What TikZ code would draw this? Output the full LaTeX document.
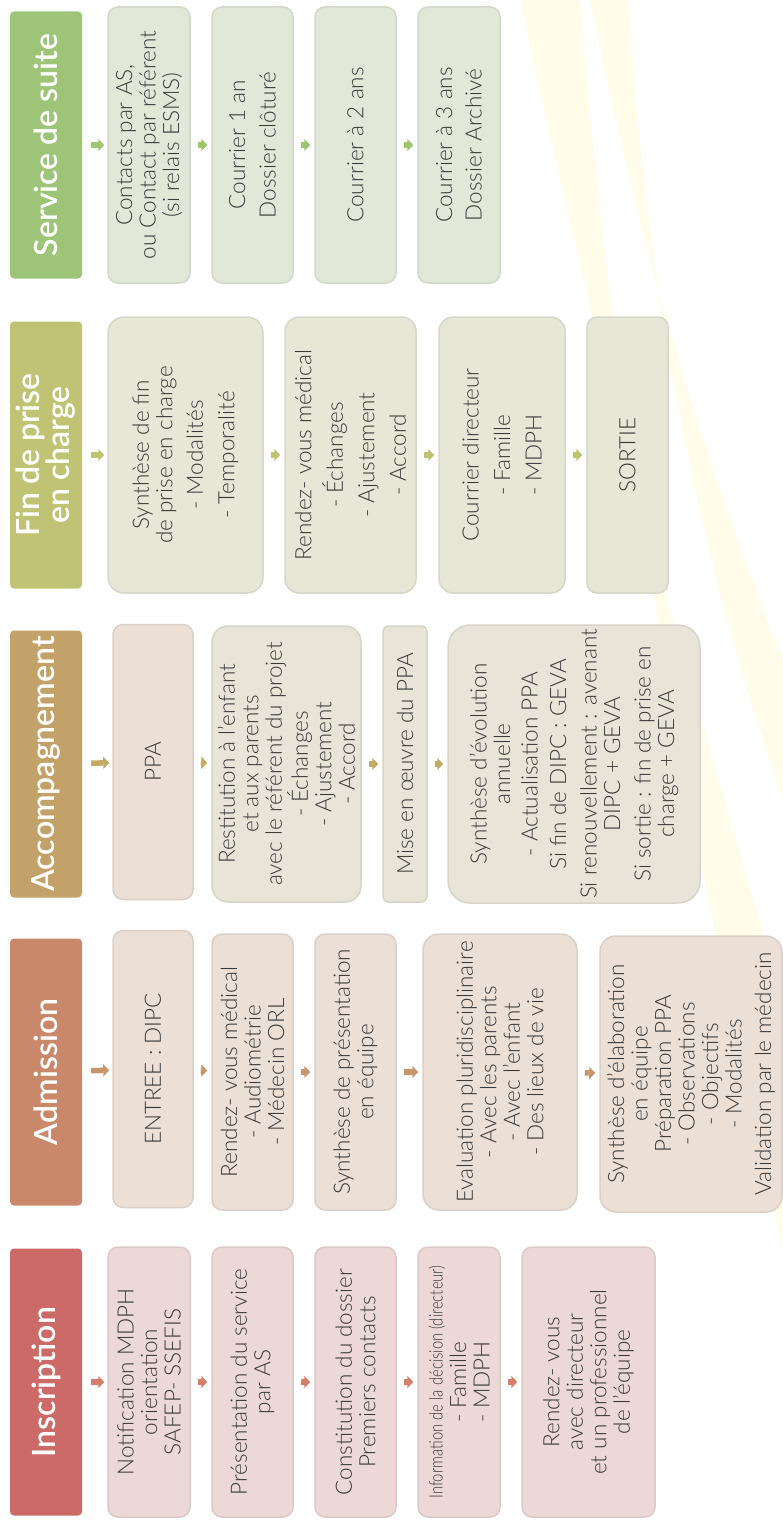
\documentclass[tikz,border=0pt]{standalone}
\usepackage{fontspec}
\setmainfont{Lato}
\newfontfamily\bodyfont{Lato Light}
\newfontfamily\headfont{Lato Semibold}
\usetikzlibrary{arrows.meta}

\definecolor{txt}{HTML}{3A3A3A}
\definecolor{insH}{HTML}{CB6A66}
\definecolor{insB}{HTML}{ECD8D6}
\definecolor{insA}{HTML}{D57F6B}
\definecolor{admH}{HTML}{C98869}
\definecolor{admB}{HTML}{EBDFD6}
\definecolor{admA}{HTML}{C9966C}
\definecolor{accH}{HTML}{C2A268}
\definecolor{accB}{HTML}{E9E4D8}
\definecolor{accA}{HTML}{C4AA62}
\definecolor{finH}{HTML}{BFC373}
\definecolor{finB}{HTML}{E6E7D7}
\definecolor{finA}{HTML}{BEC46E}
\definecolor{suiH}{HTML}{9EC477}
\definecolor{suiB}{HTML}{E1E8D8}
\definecolor{suiA}{HTML}{9DC66F}
\definecolor{swl}{HTML}{FFFDEA}

\begin{document}
\begin{tikzpicture}[x=1pt,y=-1pt]
   \tikzset{
     hdr/.style={rotate=90, fill=#1, rounded corners=4pt, minimum width=267pt,
       minimum height=72pt, inner sep=0pt, text=white, align=center,
       font=\headfont\fontsize{32}{29}\selectfont},
     box/.style={rotate=90, fill=#1, draw=#1!93!black, line width=1.5pt,
       rounded corners=10pt, inner sep=0pt, align=center, text=txt,
       font=\bodyfont\fontsize{22.5}{23.5}\selectfont},
     sz/.style 2 args={minimum width=#1pt, minimum height=#2pt},
     arr/.style={draw=#1, line width=5.5pt, -{Triangle[width=12pt,length=6pt]},
       shorten <=7pt, shorten >=4pt},
     first/.style={shorten <=9pt, shorten >=3pt},
     swoosh/.style={fill=swl}
   }
   \useasboundingbox (0,0) rectangle (783,1520);
   \fill[swoosh] (520,0) .. controls (600,380) and (700,720) .. (783,1000)
      -- (783,1250) .. controls (680,800) and (610,380) .. (580,0) -- cycle;
   \fill[swoosh] (590,0) .. controls (650,300) and (720,500) .. (783,660)
      -- (783,800) .. controls (700,560) and (650,320) .. (628,0) -- cycle;

   \node[hdr=insH] (hIns) at (46,1382) {Inscription};
   \node[box=insB, sz={270}{82}] (ins1) at (149,1382) {Notification MDPH\\orientation\\SAFEP- SSEFIS};
   \node[box=insB, sz={270}{81}] (ins2) at (252.5,1382) {Présentation du service\\par AS};
   \node[box=insB, sz={270}{81}] (ins3) at (355.5,1382) {Constitution du dossier\\Premiers contacts};
   \node[box=insB, sz={270}{82}] (ins4) at (459,1382) {\scalebox{0.66}[0.82]{Information de la décision (directeur)}\\- Famille\\- MDPH};
   \node[box=insB, sz={270}{133}] (ins5) at (588.5,1382) {Rendez- vous\\avec directeur\\et un professionnel\\de l’équipe};
   \draw[arr=insA, first] (hIns) -- (ins1);
   \draw[arr=insA] (ins1) -- (ins2);
   \draw[arr=insA] (ins2) -- (ins3);
   \draw[arr=insA] (ins3) -- (ins4);
   \draw[arr=insA] (ins4) -- (ins5);

   \node[hdr=admH] (hAdm) at (46,1072) {Admission};
   \node[box=admB, sz={277}{80}] (adm1) at (153,1069) {ENTREE : DIPC};
   \node[box=admB, sz={276}{81}] (adm2) at (252.5,1072) {Rendez- vous médical\\- Audiométrie\\- Médecin ORL};
   \node[box=admB, sz={276}{81}] (adm3) at (355.5,1072) {Synthèse de présentation\\en équipe};
   \node[box=admB, sz={276}{154}, rounded corners=16pt] (adm4) at (500,1072) {Evaluation pluridisciplinaire\\- Avec les parents\\- Avec l’enfant\\- Des lieux de vie};
   \node[box=admB, sz={276}{182}, rounded corners=16pt] (adm5) at (691,1074) {Synthèse d’élaboration\\en équipe\\Préparation PPA\\- Observations\\- Objectifs\\- Modalités\\[6pt]Validation par le médecin};
   \draw[arr=admA, first] (hAdm) -- (adm1);
   \draw[arr=admA] (adm1) -- (adm2);
   \draw[arr=admA] (adm2) -- (adm3);
   \draw[arr=admA] (adm3) -- (adm4);
   \draw[arr=admA] (adm4) -- (adm5);

   \node[hdr=accH] (hAcc) at (46,764) {Accompagnement};
   \node[box=admB, sz={275}{80}] (acc1) at (153,762) {PPA};
   \node[box=accB, sz={276}{149}, rounded corners=16pt] (acc2) at (286.5,764) {Restitution à l’enfant\\et aux parents\\avec le référent du projet\\- Échanges\\- Ajustement\\- Accord};
   \node[box=accB, sz={276}{44}, rounded corners=5pt] (acc3) at (405,764) {Mise en œuvre du PPA};
   \node[box=accB, sz={278}{252}, rounded corners=22pt] (acc4) at (574,764) {Synthèse d’évolution\\annuelle\\[4pt]- Actualisation PPA\\[5pt]Si fin de DIPC : GEVA\\[7pt]Si renouvellement : avenant\\DIPC + GEVA\\[7pt]Si sortie : fin de prise en\\charge + GEVA};
   \draw[arr=accA, first] (hAcc) -- (acc1);
   \draw[arr=accA] (acc1) -- (acc2);
   \draw[arr=accA] (acc2) -- (acc3);
   \draw[arr=accA] (acc3) -- (acc4);

   \node[hdr=finH] (hFin) at (46,455) {Fin de prise\\en charge};
   \node[box=finB, sz={276}{155}, rounded corners=16pt] (fin1) at (185.5,455) {Synthèse de fin\\de prise en charge\\[7pt]- Modalités\\[8pt]- Temporalité};
   \node[box=finB, sz={276}{131}, rounded corners=14pt] (fin2) at (350.5,455) {Rendez- vous médical\\[8pt]- Échanges\\[8pt]- Ajustement\\[8pt]- Accord};
   \node[box=finB, sz={276}{126}, rounded corners=14pt] (fin3) at (502,455) {Courrier directeur\\[8pt]- Famille\\[8pt]- MDPH};
   \node[box=finB, sz={276}{81}] (fin4) at (627.5,455) {SORTIE};
   \draw[arr=finA, first] (hFin) -- (fin1);
   \draw[arr=finA] (fin1) -- (fin2);
   \draw[arr=finA] (fin2) -- (fin3);
   \draw[arr=finA] (fin3) -- (fin4);

   \node[hdr=suiH] (hSui) at (46,145) {Service de suite};
   \node[box=suiB, sz={276}{82}] (sui1) at (149,145) {Contacts par AS,\\ou Contact par référent\\(si relais ESMS)};
   \node[box=suiB, sz={276}{81}] (sui2) at (252.5,145) {Courrier 1 an\\[7pt]Dossier clôturé};
   \node[box=suiB, sz={276}{81}] (sui3) at (355.5,145) {Courrier à 2 ans};
   \node[box=suiB, sz={276}{82}] (sui4) at (459,145) {Courrier à 3 ans\\[6pt]Dossier Archivé};
   \draw[arr=suiA, first] (hSui) -- (sui1);
   \draw[arr=suiA] (sui1) -- (sui2);
   \draw[arr=suiA] (sui2) -- (sui3);
   \draw[arr=suiA] (sui3) -- (sui4);
\end{tikzpicture}
\end{document}
